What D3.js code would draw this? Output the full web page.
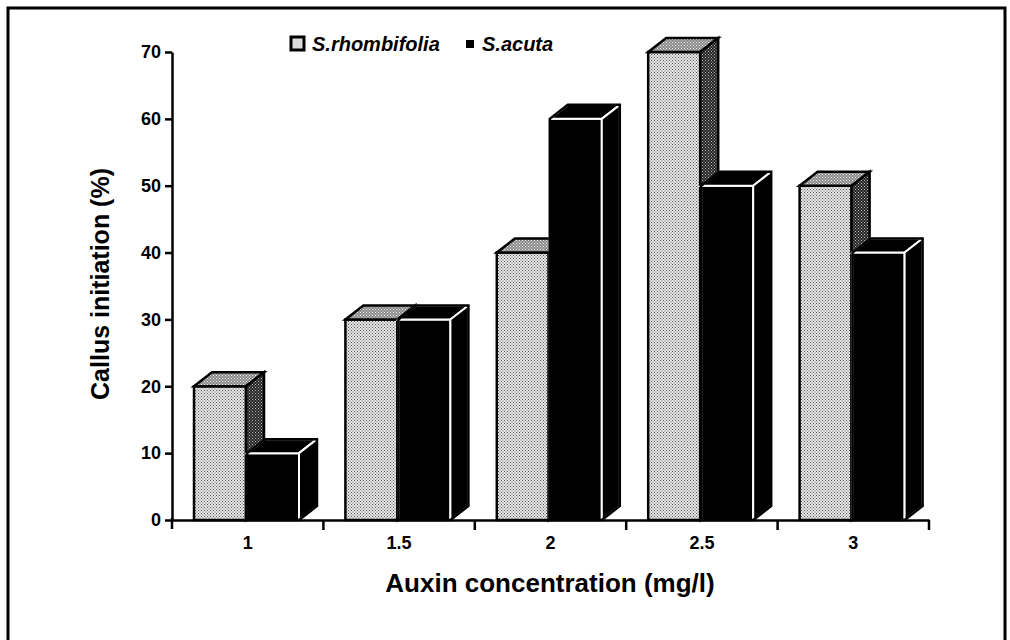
<!DOCTYPE html>
<html>
<head>
<meta charset="utf-8">
<script src="https://cdn.jsdelivr.net/npm/d3@7/dist/d3.min.js"></script>
<style>
  html, body { margin: 0; padding: 0; background: #fff; }
  svg { display: block; }
  text { font-family: "Liberation Sans", Arial, Helvetica, sans-serif; font-weight: bold; }
</style>
</head>
<body>
<script>
// ---- data ----
const categories = ["1", "1.5", "2", "2.5", "3"];
const seriesNames = ["S.rhombifolia", "S.acuta"];
const rhombifolia = [20, 30, 40, 70, 50];
const acuta = [10, 30, 60, 50, 40];
const yTicks = [0, 10, 20, 30, 40, 50, 60, 70];
const xTitle = "Auxin concentration (mg/l)";
const yTitle = "Callus initiation (%)";

const W = 1010, H = 640;
const svg = d3.select("body").append("svg").attr("width", W).attr("height", H);

// patterns (stippled fills)
const defs = svg.append("defs");
function dotPattern(id, bg, dot, size, r) {
  const p = defs.append("pattern").attr("id", id).attr("patternUnits", "userSpaceOnUse")
    .attr("width", size).attr("height", size);
  p.append("rect").attr("width", size).attr("height", size).attr("fill", bg);
  p.append("rect").attr("x", 0).attr("y", 0).attr("width", r).attr("height", r).attr("fill", dot);
  p.append("rect").attr("x", size / 2).attr("y", size / 2).attr("width", r).attr("height", r).attr("fill", dot);
}
dotPattern("pFront", "#e8e8e8", "#555555", 3, 1);
dotPattern("pTop", "#8a8a8a", "#f0f0f0", 3, 1);
dotPattern("pSide", "#222222", "#bdbdbd", 3, 1);

// frame
svg.append("path")
  .attr("d", "M8,650 L8,8 L1005,8 L1005,650")
  .attr("fill", "none").attr("stroke", "#000").attr("stroke-width", 3);

// scales
const x = d3.scaleBand().domain(categories).range([172, 929]).padding(0);
const inner = d3.scaleBand().domain(seriesNames).range([22, 128]).padding(0);
const y = d3.scaleLinear().domain([0, 70]).range([520, 52]);
const dx = 18, dy = 14;

// bars
const data = categories.map((c, i) => ({ c, vals: [rhombifolia[i], acuta[i]] }));
const g = svg.append("g");

function barFaces(x0, w, v) {
  const yt = y(v), yb = y(0);
  const x1 = x0 + w;
  return {
    front: [[x0, yt], [x1, yt], [x1, yb], [x0, yb]],
    top: [[x0, yt], [x0 + dx, yt - dy], [x1 + dx, yt - dy], [x1, yt]],
    side: [[x1, yt], [x1 + dx, yt - dy], [x1 + dx, yb - dy], [x1, yb]],
    outline: [[x0, yb], [x0, yt], [x0 + dx, yt - dy], [x1 + dx, yt - dy], [x1 + dx, yb - dy], [x1, yb]]
  };
}
const line = d3.line();
data.forEach(d => {
  d.vals.forEach((v, si) => {
    const x0 = x(d.c) + inner(seriesNames[si]);
    const w = inner.bandwidth() - 1;
    const f = barFaces(x0, w, v);
    const bg = g.append("g");
    if (si === 0) {
      bg.append("path").attr("d", line(f.front) + "Z").attr("fill", "url(#pFront)").attr("stroke", "#000").attr("stroke-width", 2.5);
      bg.append("path").attr("d", line(f.top) + "Z").attr("fill", "url(#pTop)").attr("stroke", "#000").attr("stroke-width", 2.5);
      bg.append("path").attr("d", line(f.side) + "Z").attr("fill", "url(#pSide)").attr("stroke", "#000").attr("stroke-width", 2.5);
    } else {
      ["front", "top", "side"].forEach(k => {
        bg.append("path").attr("d", line(f[k]) + "Z").attr("fill", "#000").attr("stroke", "#fff").attr("stroke-width", 2);
      });
      bg.append("path").attr("d", line(f.outline) + "Z").attr("fill", "none").attr("stroke", "#000").attr("stroke-width", 2.5).attr("stroke-linejoin", "miter");
    }
  });
});

// y axis
const yAxis = svg.append("g").attr("transform", "translate(172,0)")
  .call(d3.axisLeft(y).tickValues(yTicks).tickSize(7).tickPadding(4).tickSizeOuter(0));
yAxis.attr("font-size", null).attr("font-family", null);
yAxis.select(".domain").attr("stroke-width", 2.5);
yAxis.selectAll(".tick line").attr("stroke-width", 2.5);
yAxis.selectAll(".tick text").style("font-size", "18px").style("font-weight", "bold").attr("fill", "#000");
svg.append("line").attr("x1", 172).attr("x2", 172).attr("y1", 518).attr("y2", 529)
  .attr("stroke", "#000").attr("stroke-width", 2.5);

// x axis
const xAxis = svg.append("g").attr("transform", "translate(0,520)")
  .call(d3.axisBottom(x).tickSize(0).tickPadding(16));
xAxis.attr("font-size", null).attr("font-family", null);
xAxis.select(".domain").attr("stroke-width", 2.5);
xAxis.selectAll(".tick text").style("font-size", "18px").style("font-weight", "bold").attr("fill", "#000");
const bounds = categories.map(c => x(c)).concat([x(categories[categories.length - 1]) + x.step()]);
svg.append("g").selectAll("line").data(bounds.slice(1)).join("line")
  .attr("x1", d => d).attr("x2", d => d).attr("y1", 520).attr("y2", 530)
  .attr("stroke", "#000").attr("stroke-width", 2.5);

// titles
svg.append("text").attr("x", 550).attr("y", 592).attr("text-anchor", "middle")
  .style("font-size", "26px").text(xTitle);
svg.append("text").attr("transform", "translate(109,284) rotate(-90)").attr("text-anchor", "middle")
  .style("font-size", "25px").text(yTitle);

// legend
const lg = svg.append("g");
lg.append("rect").attr("x", 291).attr("y", 37).attr("width", 13).attr("height", 13)
  .attr("fill", "#ddd").attr("stroke", "#000").attr("stroke-width", 3);
lg.append("text").attr("x", 312).attr("y", 51).style("font-size", "20px").attr("font-style", "italic").text(seriesNames[0]);
lg.append("rect").attr("x", 466).attr("y", 40).attr("width", 8).attr("height", 8).attr("fill", "#000");
lg.append("text").attr("x", 482).attr("y", 51).style("font-size", "20px").attr("font-style", "italic").text(seriesNames[1]);
</script>
</body>
</html>
